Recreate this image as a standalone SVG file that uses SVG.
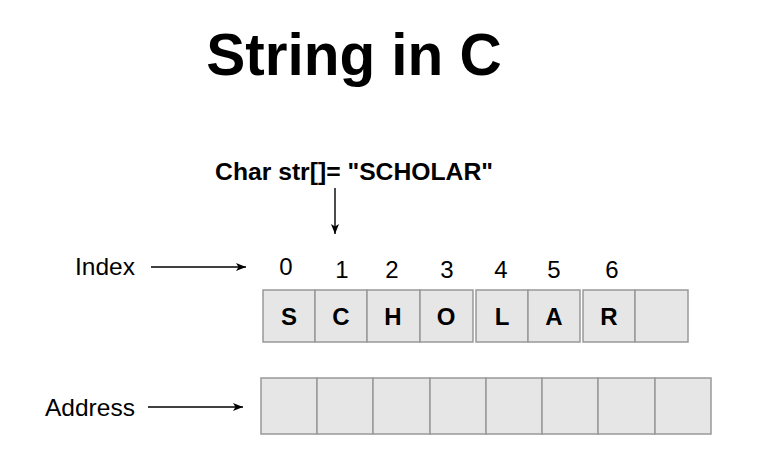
<svg xmlns="http://www.w3.org/2000/svg" width="764" height="454" viewBox="0 0 764 454">
<style>
.t{font-family:"Liberation Sans",Arial,sans-serif;fill:#000}
.lbl{font-size:24.5px}
.num{font-size:24px;text-anchor:middle}
.ch{font-size:24px;font-weight:bold;text-anchor:middle}
.cell{fill:#e6e6e6;stroke:#999;stroke-width:1.5}
.arr{stroke:#000;stroke-width:1.4;fill:none;marker-end:url(#ah)}
</style>
<defs>
<marker id="ah" viewBox="0 0 10 10" refX="10" refY="5" markerWidth="10" markerHeight="10" markerUnits="userSpaceOnUse" orient="auto">
<path d="M0,1 L10,5 L0,9 L2.5,5 Z" fill="#000"/>
</marker>
</defs>
<rect width="764" height="454" fill="#fff"/>
<g id="title"><text class="t" x="354" y="75" font-size="58.5" font-weight="bold" text-anchor="middle">String in C</text></g>
<g id="decl"><text class="t" x="354" y="180" font-size="24.7" font-weight="bold" text-anchor="middle">Char str[]= "SCHOLAR"</text></g>
<g id="index-label"><text class="t lbl" x="75" y="275">Index</text></g>
<g id="address-label"><text class="t lbl" x="45" y="416">Address</text></g>
<g id="indices">
<text class="t num" x="286" y="275">0</text>
<text class="t num" x="342" y="278">1</text>
<text class="t num" x="392" y="278">2</text>
<text class="t num" x="447" y="278">3</text>
<text class="t num" x="501" y="278">4</text>
<text class="t num" x="554" y="278">5</text>
<text class="t num" x="612" y="278">6</text>
</g>
<g id="chars">
<rect class="cell" x="263" y="290" width="52" height="52"/>
<rect class="cell" x="315" y="290" width="52" height="52"/>
<rect class="cell" x="367" y="290" width="53" height="52"/>
<rect class="cell" x="420" y="290" width="53" height="52"/>
<rect class="cell" x="476" y="290" width="52" height="52"/>
<rect class="cell" x="528" y="290" width="52" height="52"/>
<rect class="cell" x="583" y="290" width="52" height="52"/>
<rect class="cell" x="635" y="290" width="53" height="52"/>
<text class="t ch" x="289" y="325">S</text>
<text class="t ch" x="341" y="325">C</text>
<text class="t ch" x="393" y="325">H</text>
<text class="t ch" x="446" y="325">O</text>
<text class="t ch" x="502" y="325">L</text>
<text class="t ch" x="554" y="325">A</text>
<text class="t ch" x="609" y="325">R</text>
</g>
<g id="addresses">
<rect class="cell" x="261" y="378" width="56" height="56"/>
<rect class="cell" x="317" y="378" width="56" height="56"/>
<rect class="cell" x="373" y="378" width="57" height="56"/>
<rect class="cell" x="430" y="378" width="56" height="56"/>
<rect class="cell" x="486" y="378" width="56" height="56"/>
<rect class="cell" x="542" y="378" width="56" height="56"/>
<rect class="cell" x="598" y="378" width="57" height="56"/>
<rect class="cell" x="655" y="378" width="56" height="56"/>
</g>
<g id="connectors">
<line class="arr" x1="151" y1="267" x2="246" y2="267"/>
<line class="arr" x1="148" y1="407" x2="243" y2="407"/>
<line class="arr" x1="335" y1="188" x2="335" y2="234"/>
</g>
</svg>
